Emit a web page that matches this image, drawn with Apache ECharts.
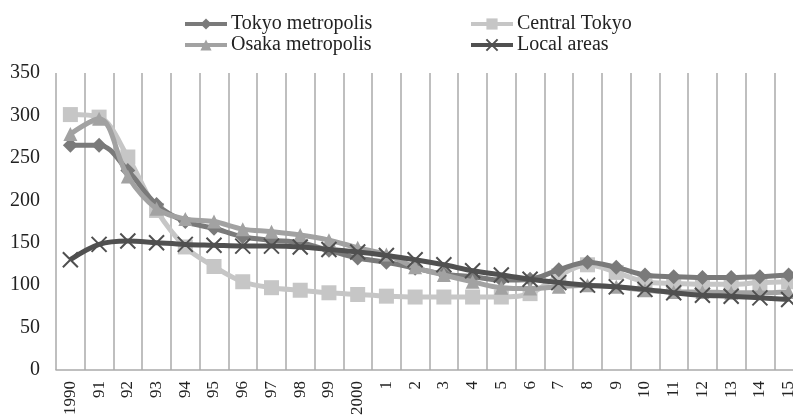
<!DOCTYPE html>
<html>
<head>
  <meta charset="utf-8">
</head>
<body style="margin: 0; background: #fff; overflow: hidden">
  <!-- the source chart is cut off at the right, so the canvas is a bit wider than the window -->
  <div id="container" style="width: 803px; height: 420px"></div>
  <script type="text/javascript" src="https://cdn.jsdelivr.net/npm/echarts@6/dist/echarts.min.js"></script>
  <script type="text/javascript">
    var years = ['1990', '91', '92', '93', '94', '95', '96', '97', '98', '99', '2000',
      '1', '2', '3', '4', '5', '6', '7', '8', '9', '10', '11', '12', '13', '14', '15'];
    var tokyoMetro = [265, 265, 235, 195, 175, 167, 157, 153, 150, 141, 132, 127, 120, 113, 110, 106, 107, 118, 127, 121, 112, 110, 109, 109, 110, 112];
    var centralTokyo = [301, 298, 251, 188, 145, 122, 104, 97, 94, 91, 89, 87, 86, 86, 86, 86, 90, 111, 124, 115, 104, 102, 101, 101, 103, 104];
    var osakaMetro = [278, 296, 228, 190, 178, 175, 166, 163, 159, 153, 144, 136, 121, 112, 104, 97, 96, 98, 100, 98, 94, 92, 92, 91, 91, 92];
    var localAreas = [130, 148, 152, 150, 148, 147, 146, 146, 145, 142, 139, 135, 130, 124, 117, 112, 107, 103, 100, 98, 95, 91, 88, 87, 85, 83];

    var font = 'Liberation Serif';

    function line(name, data, color, symbol, size, z, border) {
      return {
        name: name,
        type: 'line',
        data: data,
        smooth: 0.35,
        symbol: symbol,
        symbolSize: size,
        z: z,
        lineStyle: { color: color, width: 5 },
        itemStyle: { color: color, borderColor: color, borderWidth: border || 0 },
        emphasis: { disabled: true }
      };
    }

    var legendBase = {
      top: 9, orient: 'vertical', itemGap: 1,
      itemWidth: 42, itemHeight: 14,
      lineStyle: { width: 4 },
      textStyle: { fontFamily: font, fontSize: 20, color: '#222', padding: [0, 0, 0, -1] }
    };

    var chart = echarts.init(document.getElementById('container'));
    var option = {
      animation: false,
      textStyle: { fontFamily: font },
      legend: [
        Object.assign({ left: 178, data: ['Tokyo metropolis', 'Osaka metropolis'] }, legendBase),
        Object.assign({ left: 464, data: ['Central Tokyo', 'Local areas'] }, legendBase)
      ],
      grid: { left: 56, right: 0, top: 73, bottom: 50 },
      xAxis: {
        type: 'category',
        data: years,
        boundaryGap: true,
        axisLine: { lineStyle: { color: '#aaa', width: 1.5 } },
        axisTick: { show: false },
        splitLine: { show: true, lineStyle: { color: '#aaa', width: 1.5 } },
        axisLabel: { rotate: 90, color: '#222', fontSize: 17, fontFamily: font, margin: 11, interval: 0 }
      },
      yAxis: {
        type: 'value',
        min: 0, max: 350, interval: 50,
        axisLine: { show: false },
        axisTick: { show: false },
        splitLine: { show: false },
        axisLabel: { color: '#222', fontSize: 20, fontFamily: font, margin: 16 }
      },
      series: [
        line('Tokyo metropolis', tokyoMetro, '#7a7a7a', 'diamond', 15, 3),
        line('Central Tokyo', centralTokyo, '#c6c6c6', 'rect', 15, 2),
        line('Osaka metropolis', osakaMetro, '#a2a2a2', 'triangle', 14, 4),
        line('Local areas', localAreas, '#505050', 'path://M0,0 L1,1 M1,0 L0,1', 15, 5, 2)
      ]
    };
    chart.setOption(option);
  </script>
</body>
</html>
